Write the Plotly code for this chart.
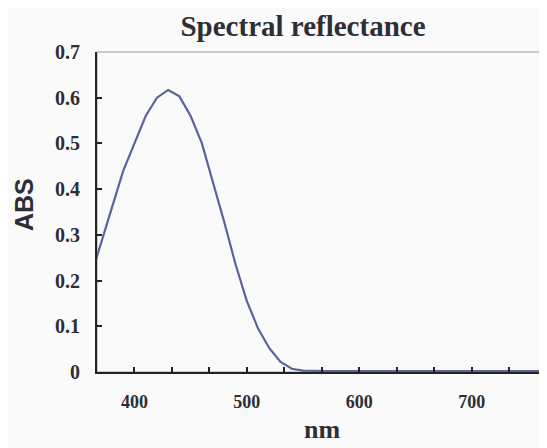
import plotly.graph_objects as go

wavelength = [360, 370, 380, 390, 400, 410, 420, 430, 440, 450, 460, 470, 480, 490,
              500, 510, 520, 530, 540, 550, 560, 570, 580, 590, 600, 620, 640, 660,
              680, 700, 720, 740, 760, 770]
abs_values = [0.20, 0.28, 0.365, 0.44, 0.50, 0.56, 0.60, 0.617, 0.603, 0.56, 0.50,
              0.415, 0.327, 0.235, 0.155, 0.095, 0.052, 0.022, 0.007, 0.003, 0.002,
              0.002, 0.002, 0.002, 0.002, 0.002, 0.002, 0.002, 0.002, 0.002, 0.002,
              0.002, 0.002, 0.002]

x_tick_vals = [400 + i * 100 / 3 for i in range(11)]
x_tick_text = ["400", "", "", "500", "", "", "600", "", "", "700", ""]
y_tick_vals = [0, 0.1, 0.2, 0.3, 0.4, 0.5, 0.6, 0.7]
y_tick_text = ["0", "0.1", "0.2", "0.3", "0.4", "0.5", "0.6", "0.7"]

serif = "Liberation Serif, Times New Roman, serif"
text_color = "#2e2e36"

# page body has an 8px margin; figure is sized/placed to compensate
W, H = 539, 440
L, R, T, B = 89, 1, 44, 76
PW, PH = W - L - R, H - T - B

fig = go.Figure()
fig.add_trace(go.Scatter(x=wavelength, y=abs_values, mode="lines",
                         line=dict(color="#5b629e", width=2.2), showlegend=False))

fig.update_layout(
    width=W, height=H,
    margin=dict(l=L, r=R, t=T, b=B),
    paper_bgcolor="#fafafb", plot_bgcolor="#fafafb",
    title=dict(text="<b>Spectral reflectance</b>", x=(303 - 8) / W, xref="container",
               xanchor="center", y=1 - (26 - 8) / H, yanchor="middle",
               font=dict(family=serif, size=29, color=text_color)),
    xaxis=dict(range=[400 - 100/3, 400 + 1100/3 - 0.5], tickmode="array",
               tickvals=x_tick_vals, ticktext=x_tick_text,
               ticks="inside", ticklen=5, tickwidth=1.5, tickcolor="#222",
               showline=True, linecolor="#222", linewidth=2, showgrid=False,
               zeroline=False, ticklabelstandoff=12,
               tickfont=dict(family=serif, size=18, color=text_color, weight="bold")),
    yaxis=dict(range=[0, 0.7], tickmode="array", tickvals=y_tick_vals,
               ticktext=y_tick_text, ticks="inside", ticklen=5, tickwidth=1.5,
               tickcolor="#222", showline=True, linecolor="#222", linewidth=2,
               showgrid=False, zeroline=False, ticklabelstandoff=11,
               tickfont=dict(family=serif, size=20, color=text_color, weight="bold")),
    shapes=[dict(type="rect", xref="paper", yref="paper", x0=0, x1=1, y0=0, y1=1,
                 line=dict(color="#9a9aa2", width=1), layer="below")],
    annotations=[
        dict(text="<b>ABS</b>", xref="paper", yref="paper", x=(16 - L) / PW,
             y=(T + PH - 197) / PH, textangle=-90, showarrow=False,
             xanchor="center", yanchor="middle",
             font=dict(family="Liberation Sans, Arial, sans-serif", size=25, color=text_color)),
        dict(text="<b>nm</b>", xref="paper", yref="paper", x=(314 - L) / PW,
             y=-(421 - (T + PH)) / PH, showarrow=False, xanchor="center", yanchor="middle",
             font=dict(family=serif, size=26, color=text_color)),
    ],
)

fig.write_html("out.html")
